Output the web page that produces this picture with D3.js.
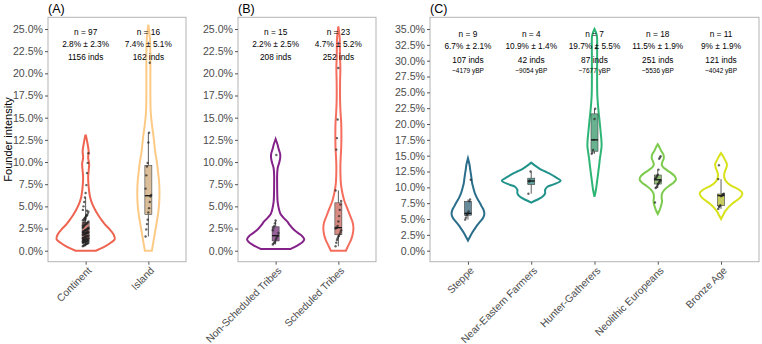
<!DOCTYPE html>
<html>
<head>
<meta charset="utf-8">
<script src="https://cdn.jsdelivr.net/npm/d3@7"></script>
<style>
  body { margin: 0; background: #fff; }
  text { font-family: "Liberation Sans", Arial, sans-serif; }
</style>
</head>
<body>
<svg id="chart"></svg>
<script>
// Categories per panel
const catsA = ["Continent", "Island"];
const catsB = ["Non-Scheduled Tribes", "Scheduled Tribes"];
const catsC = ["Steppe", "Near-Eastern Farmers", "Hunter-Gatherers", "Neolithic Europeans", "Bronze Age"];

// Y ticks (percent)
const ticksAB = [0, 2.5, 5, 7.5, 10, 12.5, 15, 17.5, 20, 22.5, 25];
const ticksC = [0, 2.5, 5, 7.5, 10, 12.5, 15, 17.5, 20, 22.5, 25, 27.5, 30, 32.5, 35];

// Founder intensity of each group (percent)
const ptsContinent = [
  0.5, 0.6, 0.6, 0.7, 0.7, 0.8, 0.8, 0.8, 0.9, 0.9,
  0.9, 1.0, 1.0, 1.0, 1.0, 1.1, 1.1, 1.1, 1.1, 1.2,
  1.2, 1.2, 1.2, 1.3, 1.3, 1.3, 1.4, 1.4, 1.4, 1.5,
  1.5, 1.5, 1.6, 1.6, 1.7, 1.7, 1.8, 1.8, 1.9, 1.9,
  2.0, 2.0, 2.0, 2.1, 2.1, 2.1, 2.2, 2.2, 2.3, 2.3,
  2.4, 2.4, 2.5, 2.5, 2.6, 2.7, 2.8, 2.9, 3.0, 3.0,
  3.1, 3.2, 3.3, 3.4, 3.5, 3.6, 3.7, 3.8, 3.9, 4.0,
  4.2, 4.4, 4.6, 5.0, 5.5, 6.0, 6.5, 7.4, 8.75, 9.9,
  11.0, 1.0, 1.2, 1.4, 1.6, 1.8, 2.0, 2.2, 2.4, 2.6,
  2.8, 3.0, 3.2, 3.4, 3.6, 4.0, 4.5
];
const ptsIsland = [1.6, 2.4, 3.0, 3.5, 4.3, 4.8, 5.5, 6.1, 6.3, 7.0, 8.5, 9.5, 9.9, 12.2, 13.3, 21.2];
const ptsNonSched = [0.7, 0.8, 0.9, 1.0, 1.2, 1.4, 1.6, 1.7, 2.0, 2.3, 2.6, 2.8, 3.1, 3.4, 10.8];
const ptsSched = [0.5, 0.9, 1.2, 1.4, 1.6, 1.7, 1.9, 2.1, 2.3, 2.5, 2.6, 2.6, 2.8, 3.3, 3.9, 4.6, 5.2, 5.6, 6.8, 11.4, 12.7, 14.8, 20.6];
const ptsSteppe = [4.9, 5.2, 5.6, 5.8, 5.9, 6.2, 7.8, 8.1, 11.2];
const ptsNearEast = [9.0, 10.9, 11.1, 12.5];
const ptsHunter = [15.3, 15.5, 15.9, 17.5, 20.8, 22.4, 32.0];
const ptsNeolithic = [7.6, 9.9, 10.0, 10.2, 10.5, 10.6, 10.8, 11.0, 11.1, 11.3, 11.4, 11.6, 11.8, 12.0, 12.8, 14.5, 14.7, 14.9];
const ptsBronze = [6.6, 6.9, 7.0, 7.2, 8.6, 8.7, 8.8, 8.9, 9.0, 11.3, 13.5];

// Violin density profiles: [value %, relative density]
const vioContinent = [[0, 10], [0.4, 18], [0.9, 25], [1.3, 29], [1.8, 28], [2.4, 24], [3.0, 19], [3.6, 15], [4.1, 12],
  [4.7, 9], [5.3, 6.5], [6.0, 4.5], [6.7, 3.5], [7.5, 2.8], [8.3, 2.5], [9.0, 3], [9.8, 3.5], [10.5, 2.5],
  [11.2, 3], [12.0, 2], [13.0, 0.3]];
const vioIsland = [[0, 3.5], [1, 5], [2, 6.5], [3, 8], [4, 9.5], [5, 10.5], [6, 11], [7, 11], [8, 10.5], [9, 9.5],
  [10, 8.5], [11, 7], [12, 6], [13, 5], [14, 3.8], [15, 2.8], [16, 2.2], [18, 2], [20, 2], [22, 2], [24, 1.5], [25.5, 0]];
const vioNonSched = [[0.2, 15], [0.6, 22], [1.0, 27], [1.3, 28.5], [1.7, 26], [2.1, 21], [2.5, 17], [2.9, 14], [3.3, 11.5],
  [3.7, 8], [4.1, 5], [4.6, 3.5], [5.5, 2], [6.5, 1.6], [7.5, 1.5], [8.5, 1.5], [9.3, 2], [9.9, 3.5], [10.4, 4.5],
  [10.9, 4.5], [11.4, 3.2], [12.0, 1.8], [12.6, 0]];
const vioSched = [[0, 7.5], [0.6, 10], [1.2, 12.5], [1.8, 14.2], [2.5, 15], [3.2, 14.2], [4.0, 11.5], [4.8, 8.8], [5.6, 6],
  [6.5, 4], [7.5, 2.6], [8.5, 2.1], [9.5, 2], [10.5, 2.3], [11.5, 2.8], [12.5, 3], [13.5, 3], [14.5, 2.8], [15.5, 2.2],
  [17, 1.7], [19, 1.7], [20.6, 2], [22, 1.6], [24, 1.3], [25.3, 0]];
const vioSteppe = [[1.6, 0], [2.2, 2], [2.8, 4], [3.4, 6.5], [4.0, 9], [4.6, 12], [5.2, 15], [5.8, 16.2], [6.4, 15.5],
  [7.0, 13.5], [7.6, 11.5], [8.3, 9], [9.0, 7], [9.8, 5.5], [10.6, 4.2], [11.3, 3.6], [12.0, 3], [12.8, 2.2],
  [13.6, 1.5], [14.6, 0]];
const vioNearEast = [[7.6, 0], [8.0, 5.3], [8.5, 11], [9.05, 13.7], [9.6, 13.7], [10.1, 16], [10.5, 22.7], [11.05, 29],
  [11.6, 24], [12.2, 17.7], [12.5, 13.7], [13.0, 7.7], [13.9, 0]];
const vioHunter = [[8.5, 0], [9.5, 1.3], [10.5, 2.2], [11.5, 3], [12.5, 3.8], [13.5, 4.6], [14.5, 5.3], [15.5, 6.2],
  [16.5, 7], [17.5, 6.8], [18.5, 6.2], [19.5, 5.6], [20.5, 5], [21.5, 4.3], [22.5, 3.7], [23.5, 3.2], [24.5, 2.8],
  [26, 2.6], [28, 2.6], [30, 2.6], [32, 2.6], [34, 2.3], [35, 0]];
const vioNeolithic = [[5.8, 0], [6.5, 2], [7.2, 3.5], [7.8, 4.2], [8.4, 3.8], [9.0, 4.2], [9.6, 6.5], [10.2, 11],
  [10.8, 16], [11.3, 18], [11.8, 16.5], [12.4, 12], [13.0, 6.5], [13.5, 4], [14.0, 4.5], [14.6, 6], [15.2, 5.5],
  [15.8, 3.2], [16.3, 1.8], [16.8, 0]];
const vioBronze = [[5.0, 0], [5.6, 2], [6.2, 4], [6.8, 7], [7.4, 11], [8.0, 16], [8.6, 20], [9.1, 21], [9.6, 18],
  [10.1, 12], [10.6, 7], [11.2, 4], [11.9, 3], [12.6, 4], [13.2, 5.5], [13.7, 5.8], [14.3, 4], [14.9, 2], [15.4, 0]];

// Annotation labels
const nLabels = ["n = 97", "n = 16", "n = 15", "n = 23", "n = 9", "n = 4", "n = 7", "n = 18", "n = 11"];
const meanLabels = ["2.8% ± 2.3%", "7.4% ± 5.1%", "2.2% ± 2.5%", "4.7% ± 5.2%", "6.7% ± 2.1%", "10.9% ± 1.4%",
  "19.7% ± 5.5%", "11.5% ± 1.9%", "9% ± 1.9%"];
const indsLabels = ["1156 inds", "162 inds", "208 inds", "252 inds", "107 inds", "42 inds", "87 inds", "251 inds", "121 inds"];
const ybpLabels = ["~4179 yBP", "~9054 yBP", "~7677 yBP", "~5536 yBP", "~4042 yBP"];

const colorsA = ["#ee6450", "#fdca86"];
const colorsB = ["#85228a", "#f56d5d"];
const colorsC = ["#2b6e8b", "#22938a", "#2db575", "#7ccb4d", "#d8e21a"];

const width = 762, height = 344;
const plotTop = 17.3, plotBottom = 261.7;

const svg = d3.select("#chart").attr("width", width).attr("height", height);

const panels = [
  { tag: "(A)", left: 48, right: 186, cats: catsA, colors: colorsA, domain: [-1.24, 26.32], ticks: ticksAB,
    pts: [ptsContinent, ptsIsland], vio: [vioContinent, vioIsland], lab: 0, ybp: null },
  { tag: "(B)", left: 238, right: 376, cats: catsB, colors: colorsB, domain: [-1.24, 26.32], ticks: ticksAB,
    pts: [ptsNonSched, ptsSched], vio: [vioNonSched, vioSched], lab: 2, ybp: null },
  { tag: "(C)", left: 430, right: 759, cats: catsC, colors: colorsC, domain: [-1.74, 36.85], ticks: ticksC,
    pts: [ptsSteppe, ptsNearEast, ptsHunter, ptsNeolithic, ptsBronze],
    vio: [vioSteppe, vioNearEast, vioHunter, vioNeolithic, vioBronze], lab: 4, ybp: ybpLabels }
];

panels.forEach((p) => {
  const g = svg.append("g");
  const x = d3.scalePoint().domain(p.cats).range([p.left, p.right]).padding(0.6);
  const y = d3.scaleLinear().domain(p.domain).range([plotBottom, plotTop]);
  const w = d3.scaleLinear().domain([0, 30]).range([0, 0.48 * x.step()]);

  // panel border
  g.append("rect")
    .attr("x", p.left).attr("y", plotTop)
    .attr("width", p.right - p.left).attr("height", plotBottom - plotTop)
    .attr("fill", "none").attr("stroke", "#b3b3b3").attr("stroke-width", 1);

  // y axis
  const yAxis = d3.axisLeft(y).tickValues(p.ticks).tickSize(3).tickPadding(2)
    .tickFormat((d) => d3.format(".1f")(d) + "%");
  g.append("g").attr("transform", `translate(${p.left},0)`).call(yAxis)
    .call((a) => a.select(".domain").remove())
    .call((a) => a.selectAll("line").attr("stroke", "#555"))
    .call((a) => a.selectAll("text").attr("fill", "#4d4d4d").style("font-size", "10.6px")
      .style("font-family", "'Liberation Sans', Arial, sans-serif"));

  // x axis
  const xAxis = d3.axisBottom(x).tickSize(3).tickFormat("");
  g.append("g").attr("transform", `translate(0,${plotBottom})`).call(xAxis)
    .call((a) => a.select(".domain").remove())
    .call((a) => a.selectAll("line").attr("stroke", "#555"));

  g.selectAll(".xlab").data(p.cats).enter().append("text")
    .attr("transform", (d) => `translate(${x(d) + 4},${plotBottom + 7}) rotate(-45)`)
    .attr("text-anchor", "end").attr("dy", "0.35em")
    .attr("fill", "#4d4d4d").style("font-size", "10.3px").text((d) => d);

  // panel tag
  g.append("text").attr("x", p.left).attr("y", 13).style("font-size", "12.5px").attr("fill", "#000").text(p.tag);

  p.cats.forEach((cat, i) => {
    const cx = x(cat);
    const col = p.colors[i];

    // violin
    const area = d3.area()
      .x0((d) => cx - w(d[1])).x1((d) => cx + w(d[1])).y((d) => y(d[0]))
      .curve(d3.curveCatmullRom);
    g.append("path").datum(p.vio[i]).attr("d", area)
      .attr("fill", "none").attr("stroke", col).attr("stroke-width", 2);

    // boxplot
    const vals = p.pts[i].slice().sort(d3.ascending);
    const q1 = d3.quantile(vals, 0.25), med = d3.quantile(vals, 0.5), q3 = d3.quantile(vals, 0.75);
    const iqr = q3 - q1;
    const lo = d3.min(vals.filter((v) => v >= q1 - 1.5 * iqr));
    const hi = d3.max(vals.filter((v) => v <= q3 + 1.5 * iqr));
    const bw = 3.5;
    g.append("line").attr("x1", cx).attr("x2", cx).attr("y1", y(hi)).attr("y2", y(q3))
      .attr("stroke", "#333").attr("stroke-width", 0.8);
    g.append("line").attr("x1", cx).attr("x2", cx).attr("y1", y(q1)).attr("y2", y(lo))
      .attr("stroke", "#333").attr("stroke-width", 0.8);
    g.append("rect").attr("x", cx - bw).attr("width", 2 * bw)
      .attr("y", y(q3)).attr("height", y(q1) - y(q3))
      .attr("fill", d3.interpolateRgb(col, "#888")(0.35)).attr("fill-opacity", 0.85)
      .attr("stroke", "#444").attr("stroke-width", 0.6);
    g.append("line").attr("x1", cx - bw).attr("x2", cx + bw).attr("y1", y(med)).attr("y2", y(med))
      .attr("stroke", "#111").attr("stroke-width", 1.3);

    // jittered points
    g.selectAll(null).data(p.pts[i]).enter().append("circle")
      .attr("cx", (d, k) => cx + (((k * 37) % 9) - 4) * 0.7)
      .attr("cy", (d) => y(d))
      .attr("r", 1.2)
      .attr("fill", "#222").attr("fill-opacity", 0.7);

    // annotations
    const li = p.lab + i;
    const isC = p.ybp !== null;
    const base = isC ? 37 : 35;
    g.append("text").attr("x", cx).attr("y", base).attr("text-anchor", "middle")
      .style("font-size", "8.3px").text(nLabels[li]);
    g.append("text").attr("x", cx).attr("y", base + 12).attr("text-anchor", "middle")
      .style("font-size", "8.3px").text(meanLabels[li]);
    g.append("text").attr("x", cx).attr("y", base + (isC ? 25.5 : 24.5)).attr("text-anchor", "middle")
      .style("font-size", "8.3px").text(indsLabels[li]);
    if (isC) {
      g.append("text").attr("x", cx).attr("y", base + 35.5).attr("text-anchor", "middle")
        .style("font-size", "6.5px").text(p.ybp[i]);
    }
  });
});

// y axis title
svg.append("text")
  .attr("transform", "translate(11.5,139.5) rotate(-90)")
  .attr("text-anchor", "middle").style("font-size", "11px").text("Founder intensity");
</script>
</body>
</html>
